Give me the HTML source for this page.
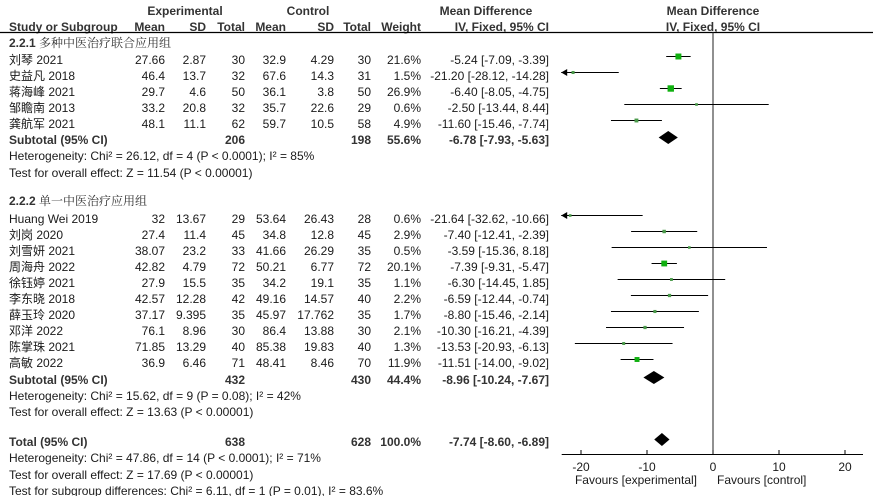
<!DOCTYPE html>
<html><head><meta charset="utf-8"><style>
html,body{margin:0;padding:0;background:#fff;}
svg{display:block;font-family:"Liberation Sans","Noto Sans CJK SC",sans-serif;font-size:12px;fill:#1a1a1a;}
.b{font-weight:bold;fill:#333;}
.cjkh{font-family:"Liberation Sans","Noto Serif CJK SC",serif;}
</style></head><body>
<svg id="plot" width="873" height="496" viewBox="0 0 873 496" xmlns="http://www.w3.org/2000/svg"></svg>
<script>
const studyNames = ["刘琴 2021","史益凡 2018","蒋海峰 2021","邹瞻南 2013","龚航军 2021","Huang Wei 2019","刘岗 2020","刘雪妍 2021","周海舟 2022","徐钰婷 2021","李东晓 2018","薛玉玲 2020","邓洋 2022","陈掌珠 2021","高敏 2022"];
const expMean = ["27.66","46.4","29.7","33.2","48.1","32","27.4","38.07","42.82","27.9","42.57","37.17","76.1","71.85","36.9"];
const expSD = ["2.87","13.7","4.6","20.8","11.1","13.67","11.4","23.2","4.79","15.5","12.28","9.395","8.96","13.29","6.46"];
const expN = [30,32,50,32,62,29,45,33,72,35,42,35,30,40,71];
const ctlMean = ["32.9","67.6","36.1","35.7","59.7","53.64","34.8","41.66","50.21","34.2","49.16","45.97","86.4","85.38","48.41"];
const ctlSD = ["4.29","14.3","3.8","22.6","10.5","26.43","12.8","26.29","6.77","19.1","14.57","17.762","13.88","19.83","8.46"];
const ctlN = [30,31,50,29,58,28,45,35,72,35,40,35,30,40,70];
const weights = [21.6,1.5,26.9,0.6,4.9,0.6,2.9,0.5,20.1,1.1,2.2,1.7,2.1,1.3,11.9];
const md = [-5.24,-21.20,-6.40,-2.50,-11.60,-21.64,-7.40,-3.59,-7.39,-6.30,-6.59,-8.80,-10.30,-13.53,-11.51];
const ciLo = [-7.09,-28.12,-8.05,-13.44,-15.46,-32.62,-12.41,-15.36,-9.31,-14.45,-12.44,-15.46,-16.21,-20.93,-14.00];
const ciHi = [-3.39,-14.28,-4.75,8.44,-7.74,-10.66,-2.39,8.18,-5.47,1.85,-0.74,-2.14,-4.39,-6.13,-9.02];
const studyBaselines = [64,80,96,112,128,223,239,255,271,287,303,319,335,351,367];
const pooledLabels = ["Subtotal (95% CI)","Subtotal (95% CI)","Total (95% CI)"];
const pooledExpN = [206,432,638];
const pooledCtlN = [198,430,628];
const pooledWeight = ["55.6%","44.4%","100.0%"];
const pooledMD = [-6.78,-8.96,-7.74];
const pooledLo = [-7.93,-10.24,-8.60];
const pooledHi = [-5.63,-7.67,-6.89];
const pooledBaselines = [144,384,446];
const axisTicks = [-20,-10,0,10,20];

const svg = document.getElementById('plot');
const NS = 'http://www.w3.org/2000/svg';
const X0 = 713, PX = 6.6, XMIN = -23, XMAX = 22.7;
function xs(v){ return X0 + v*PX; }
function mk(tag, attrs, parent){ const e=document.createElementNS(NS,tag); for(const k in attrs) e.setAttribute(k,attrs[k]); (parent||svg).appendChild(e); return e; }
function txt(s,x,y,anchor,cls,name){ const t=mk('text',{x:x,y:y,'text-anchor':anchor||'start'}); if(cls) t.setAttribute('class',cls); t.textContent=s;
 
 
 return t; }
function f2(v){ return v.toFixed(2); }
function ci(m,l,h){ return f2(m)+" ["+f2(l)+", "+f2(h)+"]"; }

// headers
txt("Experimental",185,15,'middle','b','experimental-header');
txt("Control",308,15,'middle','b','control-header');
txt("Mean Difference",486,15,'middle','b','mean-difference-header');
txt("Mean Difference",713,15,'middle','b','plot-header');
txt("Study or Subgroup",9,31,'start','b','study-header');
const cols=[["Mean",165],["SD",206],["Total",245],["Mean",286],["SD",334],["Total",371],["Weight",421],["IV, Fixed, 95% CI",549]];
cols.forEach(c=>txt(c[0],c[1],31,'end','b','column-header'));
txt("IV, Fixed, 95% CI",713,31,'middle','b','plot-subheader');
const hl=mk('line',{x1:0,y1:32.5,x2:873,y2:32.5,stroke:'#000','stroke-width':1.2});



// zero line
const zl=mk('line',{x1:X0,y1:32,x2:X0,y2:454,stroke:'#222','stroke-width':1});



// group headers
const g1=txt("",9,47,'start','b cjkh','subgroup-1-header'); g1.innerHTML='2.2.1 <tspan font-weight="normal">多种中医治疗联合应用组</tspan>';
const g2=txt("",9,205,'start','b cjkh','subgroup-2-header'); g2.innerHTML='2.2.2 <tspan font-weight="normal">单一中医治疗应用组</tspan>';

// studies
studyNames.forEach((n,i)=>{
 const y=studyBaselines[i];
 txt(n,9,y,'start',null,'study-name');
 txt(expMean[i],165,y,'end',null,'exp-mean');
 txt(expSD[i],206,y,'end',null,'exp-sd');
 txt(String(expN[i]),245,y,'end',null,'exp-total');
 txt(ctlMean[i],286,y,'end',null,'ctl-mean');
 txt(ctlSD[i],334,y,'end',null,'ctl-sd');
 txt(String(ctlN[i]),371,y,'end',null,'ctl-total');
 txt(weights[i].toFixed(1)+"%",421,y,'end',null,'weight');
 txt(ci(md[i],ciLo[i],ciHi[i]),549,y,'end',null,'ci-text');
 const cy=y-7.5;
 const lo=Math.max(ciLo[i],XMIN), hi=Math.min(ciHi[i],XMAX);
 const ln=mk('line',{x1:xs(lo),y1:cy,x2:xs(hi),y2:cy,stroke:'#000','stroke-width':1});
 
 
 if(ciLo[i]<XMIN){
  const a=mk('polygon',{points:`${xs(XMIN)},${cy} ${xs(XMIN)+6},${cy-3.5} ${xs(XMIN)+6},${cy+3.5}`,fill:'#000'});
  
  
 }
 const s=2+Math.sqrt(weights[i])*0.85;
 const sq=mk('rect',{x:xs(md[i])-s/2,y:cy-s/2,width:s,height:s,fill:weights[i]>5?'#10b010':'#4a9a4a'});
 
 
});

// pooled
pooledLabels.forEach((l,i)=>{
 const y=pooledBaselines[i];
 txt(l,9,y,'start','b','pooled-label');
 txt(String(pooledExpN[i]),245,y,'end','b','pooled-exp-total');
 txt(String(pooledCtlN[i]),371,y,'end','b','pooled-ctl-total');
 txt(pooledWeight[i],421,y,'end','b','pooled-weight');
 txt(ci(pooledMD[i],pooledLo[i],pooledHi[i]),549,y,'end','b','pooled-ci');
 const cy=y-6.5;
 const d=mk('polygon',{points:`${xs(pooledLo[i])-2},${cy} ${xs(pooledMD[i])},${cy-6.5} ${xs(pooledHi[i])+2},${cy} ${xs(pooledMD[i])},${cy+6.5}`,fill:'#000'});
 
 
});

// stats text
const notes=[["Heterogeneity: Chi² = 26.12, df = 4 (P < 0.0001); I² = 85%",160],["Test for overall effect: Z = 11.54 (P < 0.00001)",177],
["Heterogeneity: Chi² = 15.62, df = 9 (P = 0.08); I² = 42%",400],["Test for overall effect: Z = 13.63 (P < 0.00001)",416],
["Heterogeneity: Chi² = 47.86, df = 14 (P < 0.0001); I² = 71%",462],["Test for overall effect: Z = 17.69 (P < 0.00001)",479],
["Test for subgroup differences: Chi² = 6.11, df = 1 (P = 0.01), I² = 83.6%",495]];
notes.forEach(n=>txt(n[0],9,n[1],'start',null,'statistics-note'));

// axis
const ax=mk('line',{x1:xs(XMIN)+0.5,y1:454.5,x2:863,y2:454.5,stroke:'#000','stroke-width':1});


axisTicks.forEach(t=>{
 const tk=mk('line',{x1:xs(t),y1:450,x2:xs(t),y2:455,stroke:'#000','stroke-width':1});
 
 
 txt(String(t),xs(t),471,'middle',null,'x-tick-label');
});
txt("Favours [experimental]",697,484,'end',null,'favours-experimental');
txt("Favours [control]",717,484,'start',null,'favours-control');
</script>
</body></html>
